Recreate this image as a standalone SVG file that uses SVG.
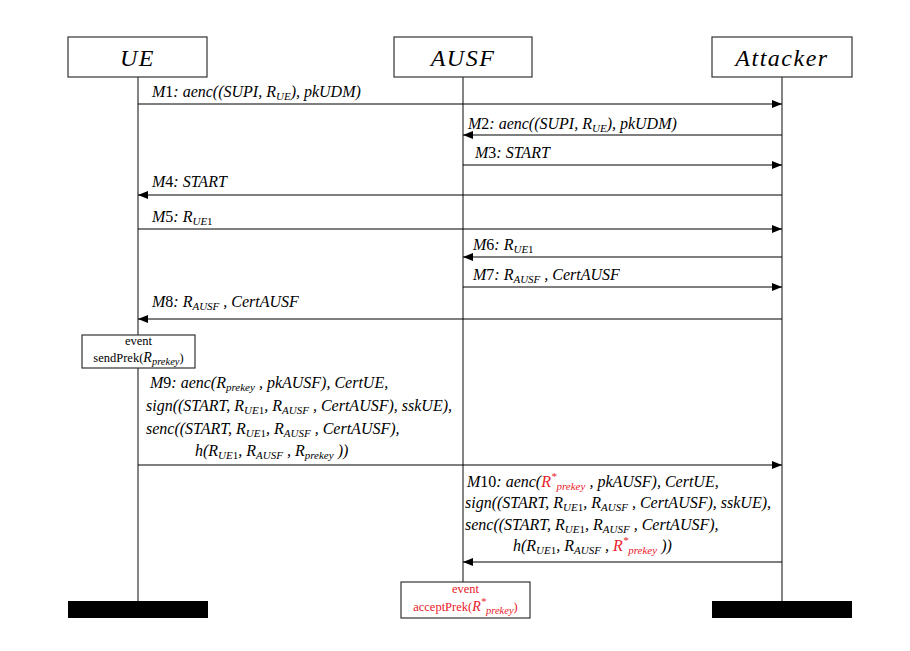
<svg xmlns="http://www.w3.org/2000/svg" width="910" height="651" viewBox="0 0 910 651">
<defs>
<marker id="ah" viewBox="0 0 10 8" refX="10" refY="4" markerWidth="10" markerHeight="8" markerUnits="userSpaceOnUse" orient="auto">
<path d="M0,0 L10,4 L0,8 Z" fill="#000"/>
</marker>
<style>
.box{fill:#fff;stroke:#333;stroke-width:1.2}
.life{stroke:#333;stroke-width:1.2;fill:none}
.msg{stroke:#000;stroke-width:1.2;fill:none;marker-end:url(#ah)}
.hd{font-family:"Liberation Serif",serif;font-style:italic;font-size:24px;letter-spacing:1.5px;text-anchor:middle;fill:#000}
.m{font-family:"Liberation Serif",serif;font-style:italic;font-size:16px;fill:#000}
.s{font-size:11px}
.up{font-style:normal}
.ev{font-family:"Liberation Serif",serif;font-size:12.5px;text-anchor:middle;fill:#000}
.red{fill:#e8202a}
</style>
</defs>
<rect width="910" height="651" fill="#fff"/>
<g id="lifelines">
<line class="life" x1="138" y1="77" x2="138" y2="335"/>
<line class="life" x1="138" y1="368" x2="138" y2="602"/>
<line class="life" x1="463" y1="77" x2="463" y2="582"/>
<line class="life" x1="782" y1="77" x2="782" y2="602"/>
</g>
<g id="UE">
<rect class="box" x="68" y="37" width="139" height="40"/>
<text class="hd" x="137.5" y="66">UE</text>
<rect x="68" y="601" width="140" height="17" fill="#000"/>
</g>
<g id="AUSF">
<rect class="box" x="394" y="37" width="138" height="40"/>
<text class="hd" x="463" y="66">AUSF</text>
</g>
<g id="Attacker">
<rect class="box" x="712" y="37" width="140" height="40"/>
<text class="hd" x="782" y="66">Attacker</text>
<rect x="712" y="601" width="140" height="17" fill="#000"/>
</g>
<g id="sendPrek">
<rect class="box" x="82" y="335" width="113" height="33"/>
<text class="ev" x="138.5" y="345">event</text>
<text class="ev" x="138.5" y="362">sendPrek(<tspan font-style="italic" font-size="14">R</tspan><tspan font-style="italic" font-size="10.5" dy="3">prekey</tspan><tspan dy="-3">)</tspan></text>
</g>
<g id="acceptPrek">
<rect class="box" x="401" y="582" width="129" height="36"/>
<text class="ev red" x="465.5" y="593">event</text>
<text class="ev red" x="465.5" y="611">acceptPrek(<tspan font-style="italic" font-size="14">R</tspan><tspan font-style="italic" font-size="10.5" dy="-6">*</tspan><tspan font-style="italic" font-size="10.5" dy="9">prekey</tspan><tspan dy="-3">)</tspan></text>
</g>
<g id="connectors">
<line class="msg" x1="138" y1="104" x2="782" y2="104"/>
<line class="msg" x1="782" y1="135" x2="463" y2="135"/>
<line class="msg" x1="463" y1="165" x2="782" y2="165"/>
<line class="msg" x1="782" y1="195" x2="138" y2="195"/>
<line class="msg" x1="138" y1="229" x2="782" y2="229"/>
<line class="msg" x1="782" y1="257" x2="463" y2="257"/>
<line class="msg" x1="463" y1="287" x2="782" y2="287"/>
<line class="msg" x1="782" y1="319" x2="138" y2="319"/>
<line class="msg" x1="138" y1="465" x2="782" y2="465"/>
<line class="msg" x1="782" y1="562" x2="463" y2="562"/>
</g>
<g id="labels">
<text class="m" x="152" y="97">M<tspan class="up">1</tspan>: aenc((SUPI, R<tspan class="s" dy="3">UE</tspan><tspan dy="-3">), pkUDM)</tspan></text>
<text class="m" x="468" y="129">M<tspan class="up">2</tspan>: aenc((SUPI, R<tspan class="s" dy="3">UE</tspan><tspan dy="-3">), pkUDM)</tspan></text>
<text class="m" x="475" y="158">M<tspan class="up">3</tspan>: START</text>
<text class="m" x="152" y="187">M<tspan class="up">4</tspan>: START</text>
<text class="m" x="152" y="222">M<tspan class="up">5</tspan>: R<tspan class="s" dy="3">UE<tspan class="up">1</tspan></tspan></text>
<text class="m" x="473" y="250">M<tspan class="up">6</tspan>: R<tspan class="s" dy="3">UE<tspan class="up">1</tspan></tspan></text>
<text class="m" x="473" y="280">M<tspan class="up">7</tspan>: R<tspan class="s" dy="3">AUSF</tspan><tspan dy="-3"> , CertAUSF</tspan></text>
<text class="m" x="152" y="307">M<tspan class="up">8</tspan>: R<tspan class="s" dy="3">AUSF</tspan><tspan dy="-3"> , CertAUSF</tspan></text>
<text class="m" x="150" y="388">M<tspan class="up">9</tspan>: aenc(R<tspan class="s" dy="3">prekey</tspan><tspan dy="-3"> , pkAUSF), CertUE,</tspan></text>
<text class="m" x="146" y="411">sign((START, R<tspan class="s" dy="3">UE<tspan class="up">1</tspan></tspan><tspan dy="-3">, R</tspan><tspan class="s" dy="3">AUSF</tspan><tspan dy="-3"> , CertAUSF), sskUE),</tspan></text>
<text class="m" x="146" y="434">senc((START, R<tspan class="s" dy="3">UE<tspan class="up">1</tspan></tspan><tspan dy="-3">, R</tspan><tspan class="s" dy="3">AUSF</tspan><tspan dy="-3"> , CertAUSF),</tspan></text>
<text class="m" x="195" y="456">h(R<tspan class="s" dy="3">UE<tspan class="up">1</tspan></tspan><tspan dy="-3">, R</tspan><tspan class="s" dy="3">AUSF</tspan><tspan dy="-3"> , R</tspan><tspan class="s" dy="3">prekey</tspan><tspan dy="-3"> ))</tspan></text>
<text class="m" x="467" y="487">M<tspan class="up">10</tspan>: aenc(<tspan class="red">R</tspan><tspan class="s red" dy="-7">*</tspan><tspan class="s red" dy="10">prekey</tspan><tspan dy="-3"> , pkAUSF), CertUE,</tspan></text>
<text class="m" x="465" y="508">sign((START, R<tspan class="s" dy="3">UE<tspan class="up">1</tspan></tspan><tspan dy="-3">, R</tspan><tspan class="s" dy="3">AUSF</tspan><tspan dy="-3"> , CertAUSF), sskUE),</tspan></text>
<text class="m" x="465" y="530">senc((START, R<tspan class="s" dy="3">UE<tspan class="up">1</tspan></tspan><tspan dy="-3">, R</tspan><tspan class="s" dy="3">AUSF</tspan><tspan dy="-3"> , CertAUSF),</tspan></text>
<text class="m" x="513" y="551">h(R<tspan class="s" dy="3">UE<tspan class="up">1</tspan></tspan><tspan dy="-3">, R</tspan><tspan class="s" dy="3">AUSF</tspan><tspan dy="-3"> , </tspan><tspan class="red">R</tspan><tspan class="s red" dy="-7">*</tspan><tspan class="s red" dy="10">prekey</tspan><tspan dy="-3"> ))</tspan></text>
</g>
</svg>
